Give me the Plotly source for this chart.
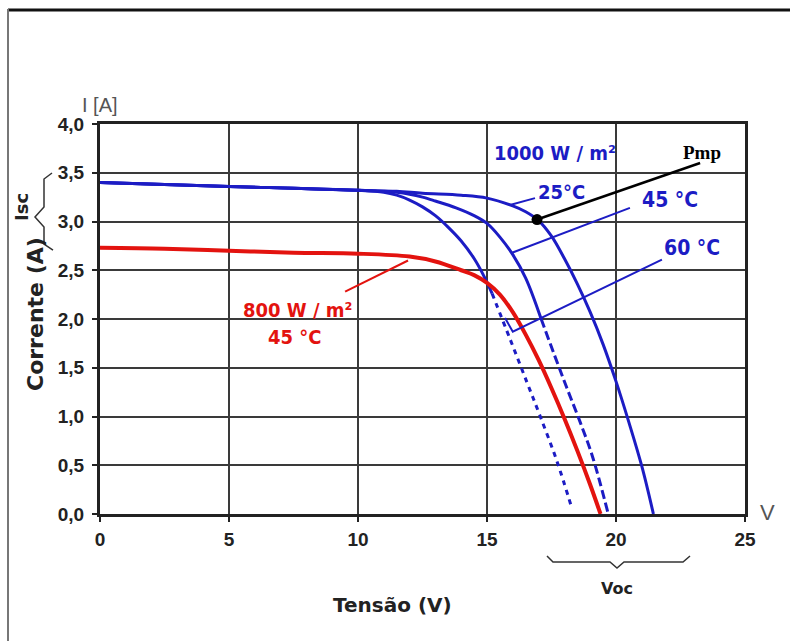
import plotly.graph_objects as go

# ---------------- data ----------------
v_25 = [0, 2.5, 5, 7.5, 10, 11.5, 12.5, 14, 15, 16.0, 16.5, 17.0, 17.5, 18.0, 18.5, 19.0, 19.5, 20.0, 20.5, 21.0, 21.45]
i_25 = [3.40, 3.38, 3.36, 3.34, 3.32, 3.31, 3.29, 3.27, 3.24, 3.16, 3.10, 3.01, 2.85, 2.62, 2.36, 2.07, 1.74, 1.36, 0.94, 0.49, 0.0]

v_45_solid = [0, 2.5, 5, 7.5, 10, 11.0, 11.5, 12.0, 12.5, 13.0, 13.8, 14.5, 15.0, 15.5, 16.0, 16.5, 17.1]
i_45_solid = [3.40, 3.38, 3.36, 3.34, 3.32, 3.31, 3.30, 3.28, 3.25, 3.21, 3.14, 3.06, 2.98, 2.84, 2.66, 2.42, 2.00]
v_45_dash = [17.1, 17.6, 18.1, 18.6, 19.1, 19.7]
i_45_dash = [2.00, 1.64, 1.29, 0.95, 0.58, 0.0]

v_60_solid = [0, 2.5, 5, 7.5, 10, 11.0, 11.5, 12.0, 12.5, 13.0, 13.5, 14.0, 14.5, 14.9, 15.2]
i_60_solid = [3.40, 3.38, 3.36, 3.34, 3.32, 3.30, 3.27, 3.22, 3.15, 3.06, 2.94, 2.80, 2.62, 2.43, 2.26]
v_60_dash = [15.2, 15.9, 16.55, 17.05, 17.7, 18.3]
i_60_dash = [2.26, 1.79, 1.35, 1.01, 0.55, 0.05]

v_800 = [0, 2.5, 5, 7.5, 10, 12.0, 13.0, 14.0, 14.5, 15.0, 15.5, 16.0, 16.5, 17.0, 17.5, 18.0, 18.5, 19.0, 19.4]
i_800 = [2.73, 2.72, 2.70, 2.68, 2.67, 2.64, 2.59, 2.50, 2.45, 2.37, 2.25, 2.07, 1.84, 1.58, 1.29, 0.98, 0.65, 0.30, 0.0]

pmp_v = [16.94]
pmp_i = [3.02]

x_ticks = [0, 5, 10, 15, 20, 25]
y_ticks = [0, 0.5, 1.0, 1.5, 2.0, 2.5, 3.0, 3.5, 4.0]
y_tick_text = ["0,0", "0,5", "1,0", "1,5", "2,0", "2,5", "3,0", "3,5", "4,0"]

# ---------------- styling ----------------
BLUE = "#1c1cc4"
RED = "#e3130f"
W, H = 790, 641
L, R, T, B = 100, 45, 124, 127
NARROW = "Liberation Sans Narrow, DejaVu Sans Condensed, Arial Narrow, sans-serif"
SANS = "Liberation Sans, Arial, sans-serif"
WIDE = "DejaVu Sans, Verdana, sans-serif"


def px(xp):
    return (xp - L) / (W - L - R)


def py(yp):
    return (H - B - yp) / (H - T - B)


SM = dict(shape="spline", smoothing=1.0)

fig = go.Figure()

fig.add_trace(go.Scatter(x=v_25, y=i_25, mode="lines", line=dict(color=BLUE, width=3, **SM)))
fig.add_trace(go.Scatter(x=v_45_solid, y=i_45_solid, mode="lines", line=dict(color=BLUE, width=3, **SM)))
fig.add_trace(go.Scatter(x=v_45_dash, y=i_45_dash, mode="lines", line=dict(color=BLUE, width=3, dash="9px,4px", **SM)))
fig.add_trace(go.Scatter(x=v_60_solid, y=i_60_solid, mode="lines", line=dict(color=BLUE, width=3, **SM)))
fig.add_trace(go.Scatter(x=v_60_dash, y=i_60_dash, mode="lines", line=dict(color=BLUE, width=3, dash="5px,5px", **SM)))
fig.add_trace(go.Scatter(x=v_800, y=i_800, mode="lines", line=dict(color=RED, width=4, **SM)))

# leader lines
leaders = [
    ([16.86, 15.89], [3.24, 3.17], BLUE, 2),
    ([20.54, 15.97], [3.14, 2.68], BLUE, 2),
    ([21.78, 16.0, 15.7], [2.61, 1.87, 2.01], BLUE, 2),
    ([23.26, 16.94], [3.60, 3.02], "black", 2.5),
    ([9.5, 11.94], [2.28, 2.60], RED, 2),
]
for lx, ly, c, w in leaders:
    fig.add_trace(go.Scatter(x=lx, y=ly, mode="lines", line=dict(color=c, width=w)))

fig.add_trace(go.Scatter(x=pmp_v, y=pmp_i, mode="markers", marker=dict(color="black", size=11)))

# ---------------- annotations ----------------
ann = []


def label(x, y, text, color, size, family=NARROW, ref="data", angle=0):
    d = dict(x=x, y=y, text=text, showarrow=False, textangle=angle,
             font=dict(color=color, size=size, family=family), xanchor="center", yanchor="middle")
    if ref == "paper":
        d.update(xref="paper", yref="paper")
    ann.append(d)


label(17.64, 3.70, "<b>1000 W / m²</b>", BLUE, 20)
label(17.9, 3.30, "<b>25°C</b>", BLUE, 20)
label(22.1, 3.22, "<b>45 °C</b>", BLUE, 21)
label(22.95, 2.73, "<b>60 °C</b>", BLUE, 21)
label(23.33, 3.71, "<b>Pmp</b>", "black", 19, family="Liberation Serif, Times New Roman, serif")
label(7.64, 2.09, "<b>800 W / m²</b>", RED, 20)
label(7.56, 1.82, "<b>45 °C</b>", RED, 20)

label(px(100), py(105), "I [A]", "#555555", 20, family=SANS, ref="paper")
label(px(767), py(512), "V", "#555555", 22, family=SANS, ref="paper")
label(px(35), py(314), "<b>Corrente (A)</b>", "#222222", 22, family=WIDE, ref="paper", angle=-90)
label(px(392), py(605), "<b>Tensão (V)</b>", "#222222", 20, family=WIDE, ref="paper")
label(px(21), py(207), "<b>Isc</b>", "#222222", 18, family=WIDE, ref="paper", angle=-90)
label(px(617), py(588), "<b>Voc</b>", "#222222", 16, family=WIDE, ref="paper")

# ---------------- shapes (braces, outer frame) ----------------
def path(points):
    return "M " + " L ".join(f"{px(a):.5f},{py(b):.5f}" for a, b in points)


shapes = [
    dict(type="path", xref="paper", yref="paper",
         path=path([(52, 173), (44, 179), (44, 207), (35, 217), (44, 227), (44, 244), (53, 250)]),
         line=dict(color="#333333", width=1.5)),
    dict(type="path", xref="paper", yref="paper",
         path=path([(547, 556), (553, 562), (610, 562), (617, 568), (624, 562), (683, 562), (690, 556)]),
         line=dict(color="#333333", width=1.5)),
    dict(type="line", xref="paper", yref="paper", x0=px(8), x1=px(790), y0=py(10), y1=py(10),
         line=dict(color="#111111", width=3)),
    dict(type="line", xref="paper", yref="paper", x0=px(8), x1=px(8), y0=py(9), y1=py(641),
         line=dict(color="#777777", width=2)),
]

fig.update_layout(
    width=W, height=H,
    margin=dict(l=L, r=R, t=T, b=B, autoexpand=False),
    paper_bgcolor="white", plot_bgcolor="white",
    showlegend=False,
    annotations=ann, shapes=shapes,
)
fig.update_xaxes(
    range=[0, 25], tickvals=x_ticks, ticktext=[str(t) for t in x_ticks],
    showgrid=True, gridcolor="#3a3a3a", gridwidth=2,
    showline=True, linecolor="#222222", linewidth=3, mirror=True,
    ticks="outside", ticklen=5, tickwidth=2, tickcolor="#222222",
    tickfont=dict(family=SANS, size=19, color="#222222", weight="bold"),
    ticklabelstandoff=1, zeroline=False,
)
fig.update_yaxes(
    range=[0, 4], tickvals=y_ticks, ticktext=y_tick_text,
    showgrid=True, gridcolor="#3a3a3a", gridwidth=2,
    showline=True, linecolor="#222222", linewidth=3, mirror=True,
    ticks="outside", ticklen=5, tickwidth=2, tickcolor="#222222",
    tickfont=dict(family=SANS, size=19, color="#222222", weight="bold"),
    ticklabelstandoff=4, zeroline=False,
)

fig.write_html("out.html")
